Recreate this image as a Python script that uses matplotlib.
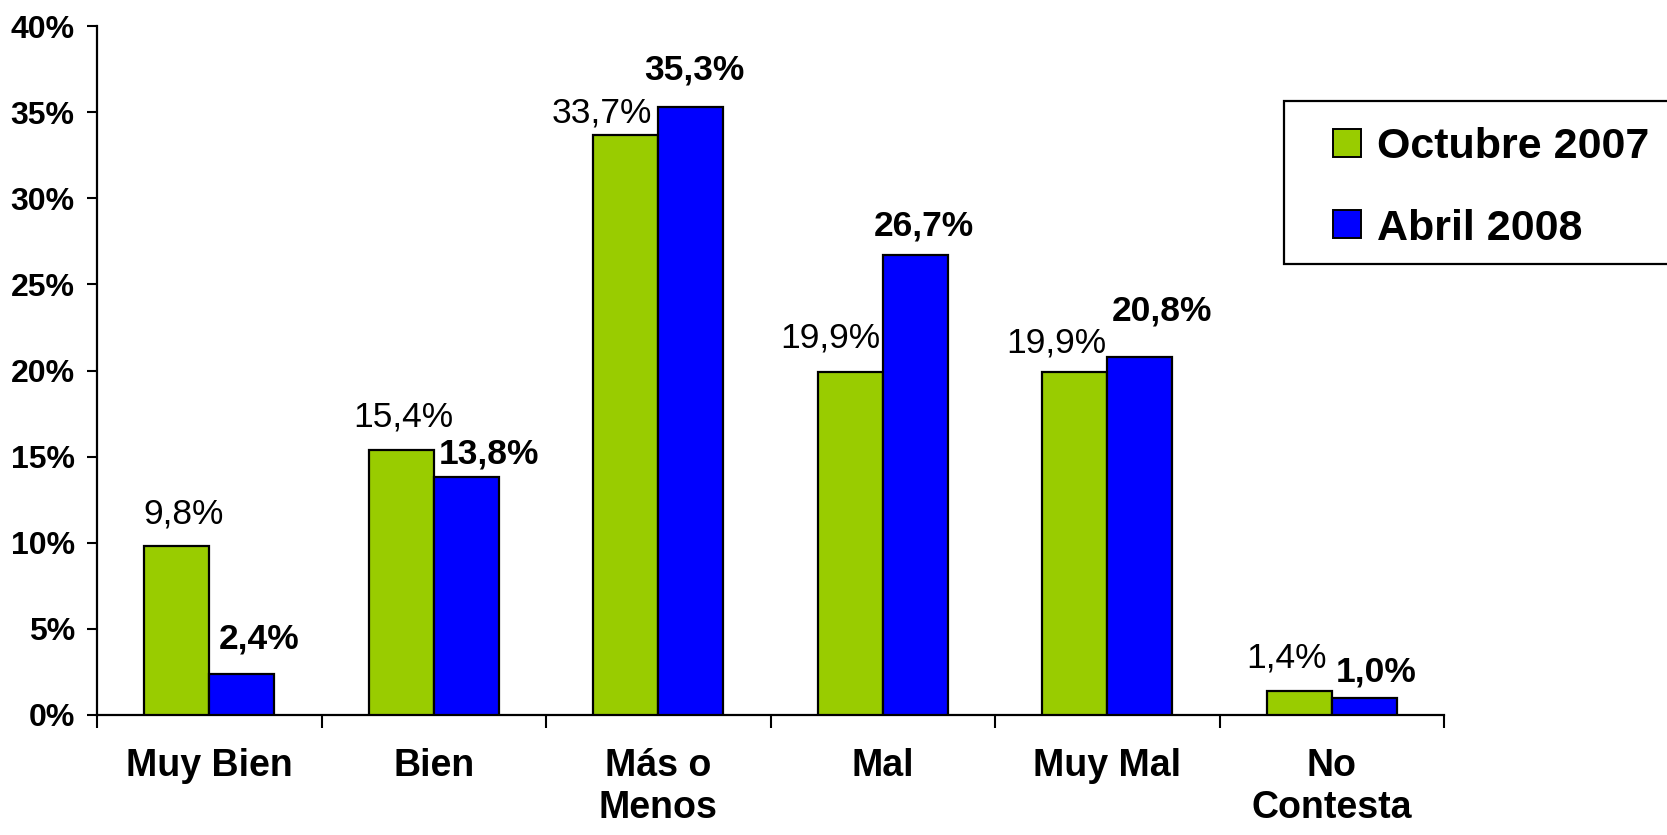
import matplotlib
matplotlib.use("Agg")
import matplotlib.pyplot as plt
from matplotlib.patches import Rectangle
import numpy as np

# ---- data ----
categories = ["Muy Bien", "Bien", "Más o\nMenos", "Mal", "Muy Mal", "No\nContesta"]
series_names = ["Octubre 2007", "Abril 2008"]
octubre_2007 = [9.8, 15.4, 33.7, 19.9, 19.9, 1.4]
abril_2008 = [2.4, 13.8, 35.3, 26.7, 20.8, 1.0]
y_ticks = [0, 5, 10, 15, 20, 25, 30, 35, 40]

# ---- style ----
colors = ["#99CC00", "#0000FF"]
label_weights = ["normal", "bold"]
# manual label offsets (pixels) relative to bar centre / bar top, as in the original
oct_offsets = [(7, 23), (2, 23), (-24, 12), (-20, 25), (-18, 20), (-13, 23)]
abr_offsets = [(17, 25), (23, 14), (4, 27), (9, 20), (22, 36), (12, 16)]

plt.rcParams["font.family"] = ["Liberation Sans", "DejaVu Sans"]

W, H = 1667, 835
fig = plt.figure(figsize=(W / 100, H / 100), dpi=100)
ax = fig.add_axes([97 / W, 1 - 715 / H, (1444 - 97) / W, (715 - 26) / H])

x = np.arange(len(categories)) + 0.5
bw = 65 / 224.5

series = [octubre_2007, abril_2008]
offsets = [oct_offsets, abr_offsets]
for i, vals in enumerate(series):
    xs = x + (i - 0.5) * bw
    ax.bar(xs, vals, width=bw, color=colors[i], edgecolor="black",
           linewidth=1.6, zorder=3)
    for xi, v, (dx, dy) in zip(xs, vals, offsets[i]):
        ax.annotate(f"{v:.1f}%".replace(".", ","), (xi, v),
                    xytext=(dx, dy), textcoords="offset pixels",
                    ha="center", va="baseline", fontsize=25.5,
                    fontweight=label_weights[i], color="black")

ax.set_xlim(0, len(categories))
ax.set_ylim(0, 40)

# y axis
ax.set_yticks(y_ticks)
ax.set_yticklabels([f"{t}%" for t in y_ticks], fontsize=23, fontweight="bold")
ax.tick_params(axis="y", direction="out", length=7, width=1.5, pad=9)

# x axis: boundary ticks (major) and category labels (minor)
ax.set_xticks(np.arange(len(categories) + 1))
ax.set_xticklabels([])
ax.tick_params(axis="x", which="major", direction="out", length=9, width=1.5)
ax.set_xticks(x, minor=True)
ax.set_xticklabels(categories, minor=True, fontsize=27, fontweight="bold",
                   linespacing=1.2)
ax.tick_params(axis="x", which="minor", length=0, pad=24)

for side in ["top", "right"]:
    ax.spines[side].set_visible(False)
for side in ["left", "bottom"]:
    ax.spines[side].set_linewidth(1.6)

# ---- legend (drawn in figure pixels) ----
def fx(px):
    return px / W

def fy(py):
    return 1 - py / H

frame = Rectangle((fx(1284), fy(264)), fx(1700) - fx(1284), fy(101) - fy(264),
                  transform=fig.transFigure, facecolor="white",
                  edgecolor="black", linewidth=1.6, clip_on=False)
fig.patches.append(frame)
row_centers = [143, 224]
for name, col, yc in zip(series_names, colors, row_centers):
    sq = Rectangle((fx(1333), fy(yc + 14)), fx(28), 28 / H,
                   transform=fig.transFigure, facecolor=col,
                   edgecolor="black", linewidth=1.4)
    fig.patches.append(sq)
    fig.text(fx(1377), fy(yc), name, fontsize=31, fontweight="bold",
             ha="left", va="center_baseline")

fig.savefig("out.png", dpi=100)
